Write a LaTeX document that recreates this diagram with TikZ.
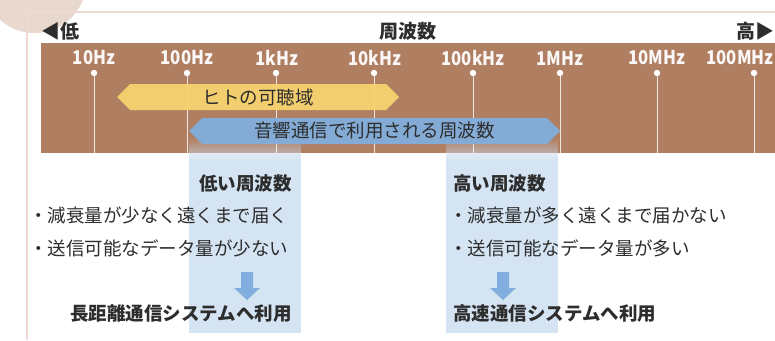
\documentclass[tikz,border=0pt]{standalone}
\usepackage{fontspec}
\setmainfont{Noto Sans CJK JP}
\usetikzlibrary{shapes.symbols,fadings}

\def\bandarea{(41,-43) rectangle (775,-153)}
\def\lowcolumntop{(189,-138) rectangle (301,-160)}
\def\lowcolumn{(189,-160) rectangle (301,-333)}
\def\highcolumntop{(446,-138) rectangle (558,-160)}
\def\highcolumn{(446,-160) rectangle (558,-333)}
\definecolor{band brown}{RGB}{176,127,98}
\definecolor{deco tan}{RGB}{232,216,206}
\definecolor{frame pink}{RGB}{238,218,210}
\definecolor{hear yellow}{RGB}{249,213,113}
\definecolor{sound blue}{RGB}{128,175,223}
\definecolor{column blue}{RGB}{200,219,239}
\definecolor{text grey}{RGB}{45,45,45}
\tikzset{bigtext/.style={font=\fontsize{18.5}{20}\selectfont, text=text grey, inner sep=0pt},
    boldtext/.style={bigtext, font=\fontsize{18.5}{20}\selectfont\bfseries},
    headtext/.style={bigtext, font=\fontsize{19}{20}\selectfont\bfseries},
    ticklabel/.style={font=\fontsize{19}{20}\selectfont\bfseries, text=white!94!band brown,
        inner sep=0pt, xscale=0.88, transform shape},
    tickline/.style={draw=white, line width=1pt, draw opacity=0.8},
    column/.style={fill=column blue, fill opacity=0.75},
    rangearrow/.style={signal, signal to=west and east, signal pointer angle=90,
        minimum height=26pt, inner sep=0pt, fill opacity=0.92, text opacity=1,
        font=\fontsize{18.5}{20}\selectfont, text=text grey},
    downarrow/.style={fill=sound blue}}

\begin{document}
\begin{tikzpicture}[x=1pt, y=1pt]
    \useasboundingbox (0,0) rectangle (775,-340);
    \clip (0,0) rectangle (775,-340);
    \fill[white] (0,0) rectangle (775,-340);

    % decoration and frame
    \fill[deco tan] (34.5,19) circle (52);
    \draw[frame pink, line width=1.2pt] (27,-340) -- (27,-12) -- (775,-12);

    % axis heading
    \node[headtext, anchor=west] (low) at (41,-31) {◀低};
    \node[headtext] (axis) at (408,-31) {周波数};
    \node[headtext, anchor=east] (high) at (775,-31) {高▶};

    % frequency band
    \fill[band brown] \bandarea;
    \fill[column, path fading=north] \lowcolumntop;
    \fill[column] \lowcolumn;
    \fill[column, path fading=north] \highcolumntop;
    \fill[column] \highcolumn;

    \foreach \name/\x/\lx/\lab in {a/94/94/10Hz, b/187/187/100Hz, c/276/277/1kHz,
        d/374/375/10kHz, e/473/473/100kHz, f/560/560/1MHz, g/657/657/10MHz,
        h/754/740/100MHz} {
        \node[ticklabel] (lab-\name) at (\lx,-58) {\lab};
        \coordinate (dot-\name) at (\x,-73);
        \coordinate (end-\name) at (\x,-153);
        \draw[tickline] (dot-\name) -- (end-\name);
        \fill[white] (dot-\name) circle (3.2);
    }

    \node[rangearrow, fill=hear yellow, minimum width=282pt] (hearing) at (258,-97) {ヒトの可聴域};
    \node[rangearrow, fill=sound blue, minimum width=371pt] (acoustic) at (374.5,-131) {音響通信で利用される周波数};

    % low frequency side
    \node[boldtext, anchor=east] (lowtitle) at (292,-183) {低い周波数};
    \node[bigtext, anchor=west] (lowone) at (29,-215) {・減衰量が少なく遠くまで届く};
    \node[bigtext, anchor=west] (lowtwo) at (29,-248) {・送信可能なデータ量が少ない};
    \fill[downarrow] (241,-272) -- (253,-272) -- (253,-288) -- (260,-288)
        -- (247,-300) -- (234,-288) -- (241,-288) -- cycle;
    \node[boldtext, anchor=east] (lowuse) at (292,-314) {長距離通信システムへ利用};

    % high frequency side
    \node[boldtext, anchor=west] (hightitle) at (453,-183) {高い周波数};
    \node[bigtext, anchor=west] (highone) at (449,-215) {・減衰量が多く遠くまで届かない};
    \node[bigtext, anchor=west] (hightwo) at (449,-248) {・送信可能なデータ量が多い};
    \fill[downarrow] (497,-272) -- (509,-272) -- (509,-288) -- (516,-288)
        -- (503,-300) -- (490,-288) -- (497,-288) -- cycle;
    \node[boldtext, anchor=west] (highuse) at (453,-314) {高速通信システムへ利用};
\end{tikzpicture}
\end{document}
